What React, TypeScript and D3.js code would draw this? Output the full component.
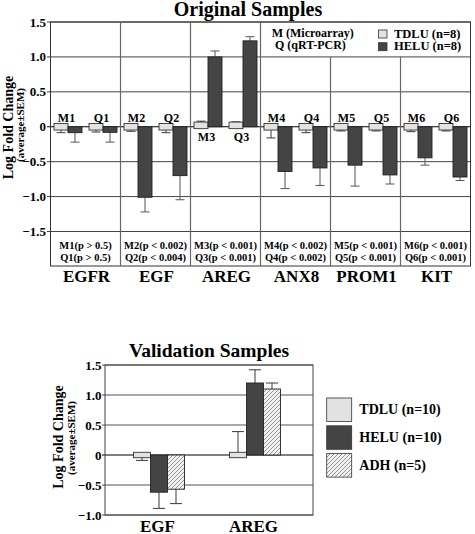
import React from "react";
import * as d3 from "d3";

// ---------- Original Samples data ----------
const genes = ["EGFR", "EGF", "AREG", "ANX8", "PROM1", "KIT"];
const methods = ["M", "Q"];
const probeLabels = ["M1", "Q1", "M2", "Q2", "M3", "Q3", "M4", "Q4", "M5", "Q5", "M6", "Q6"];
const tdluMean = [0, 0, 0, 0, 0.02, 0.02, 0, 0, 0, 0, 0, 0];
// signed SEM (direction of the whisker)
const tdluSem = [-0.085, -0.075, -0.065, -0.085, 0.06, 0.05, -0.16, -0.085, -0.06, -0.06, -0.07, -0.06];
const heluMean = [-0.085, -0.08, -1.01, -0.7, 1.0, 1.23, -0.64, -0.59, -0.55, -0.69, -0.445, -0.72];
const heluSem = [0.135, 0.14, 0.21, 0.345, 0.085, 0.06, 0.245, 0.25, 0.3, 0.13, 0.105, 0.05];
const pValues = [
  "p > 0.5", "p > 0.5",
  "p < 0.002", "p < 0.004",
  "p < 0.001", "p < 0.001",
  "p < 0.002", "p < 0.002",
  "p < 0.001", "p < 0.001",
  "p < 0.001", "p < 0.001",
];
const topTicks = [1.5, 1.0, 0.5, 0, -0.5, -1.0, -1.5];
const topLegend = ["TDLU (n=8)", "HELU (n=8)"];
const methodLegend = ["M (Microarray)", "Q (qRT-PCR)"];

// ---------- Validation Samples data ----------
const valCats = ["EGF", "AREG"];
const valGroups = ["TDLU (n=10)", "HELU (n=10)", "ADH (n=5)"];
const valTdluMean = [0, 0];
const valTdluSem = [-0.09, 0.39];
const valHeluMean = [-0.62, 1.2];
const valHeluSem = [0.27, 0.22];
const valAdhMean = [-0.57, 1.1];
const valAdhSem = [0.24, 0.1];
const botTicks = [1.5, 1.0, 0.5, 0, -0.5, -1.0];

const FONT = "'Liberation Serif', 'Times New Roman', serif";
const LIGHT = "#e2e2e2";
const DARK = "#444444";
const LINE = "#3a3a3a";

function fmt(v: number) {
  if (v === 0) return "0";
  return d3.format(".1f")(v);
}

export default function App() {
  // ---- top chart scales ----
  const tL = 50.5, tR = 470.5, tT = 22;
  const yTop = d3.scaleLinear().domain([-1.5, 1.5]).range([231.5, tT]);
  const tBottom = 266;
  const gx = d3.scaleBand<string>().domain(genes).range([tL, tR]);
  const mx = d3.scaleBand<string>().domain(methods).range([0, gx.bandwidth()]);
  const bx = d3.scaleBand<string>().domain(["TDLU", "HELU"]).range([3.5, mx.bandwidth() - 3.5]);
  const bw = bx.bandwidth();
  const capT = 9;

  // ---- bottom chart scales ----
  const bL = 105, bR = 313, bT = 365, bB = 515;
  const yBot = d3.scaleLinear().domain([-1, 1.5]).range([bB, bT]);
  const cx = d3.scalePoint<string>().domain(valCats).range([159, 255]);
  const vb = d3.scaleBand<string>().domain(valGroups).range([-25.5, 25.5]);
  const vbw = vb.bandwidth();
  const capB = 12;

  const topBars: React.ReactNode[] = [];
  probeLabels.forEach((lab, i) => {
    const g = genes[Math.floor(i / 2)];
    const m = methods[i % 2];
    const x0 = (gx(g) as number) + (mx(m) as number);
    const xT = x0 + (bx("TDLU") as number);
    const xH = x0 + (bx("HELU") as number);
    // TDLU box
    const yc = yTop(tdluMean[i]);
    const hh = 3.3;
    const yWT = yTop(tdluMean[i] + tdluSem[i]);
    const edge = tdluSem[i] < 0 ? yc + hh : yc - hh;
    topBars.push(
      <g key={"t" + i}>
        <line x1={xT + bw / 2} x2={xT + bw / 2} y1={edge} y2={yWT} stroke={LINE} strokeWidth={1} />
        <line x1={xT + bw / 2 - capT / 2} x2={xT + bw / 2 + capT / 2} y1={yWT} y2={yWT} stroke={LINE} strokeWidth={1} />
        <rect x={xT} y={yc - hh} width={bw} height={hh * 2} fill={LIGHT} stroke="#333" strokeWidth={0.9} />
      </g>
    );
    // HELU bar
    const v = heluMean[i];
    const y0 = yTop(0), y1 = yTop(v);
    const yW = yTop(v + Math.sign(v) * heluSem[i]);
    topBars.push(
      <g key={"h" + i}>
        <line x1={xH + bw / 2} x2={xH + bw / 2} y1={y1} y2={yW} stroke="#555" strokeWidth={1} />
        <line x1={xH + bw / 2 - capT / 2} x2={xH + bw / 2 + capT / 2} y1={yW} y2={yW} stroke="#555" strokeWidth={1} />
        <rect x={xH} y={Math.min(y0, y1)} width={bw} height={Math.abs(y1 - y0)} fill={DARK} stroke="#222" strokeWidth={0.9} />
      </g>
    );
    // probe label
    const pc = x0 + (bx("TDLU") as number) + bw - 1.5;
    const above = v < 0;
    topBars.push(
      <text key={"l" + i} x={pc} y={above ? yTop(0) - 5 : yTop(0) + 14.5} textAnchor="middle"
        fontSize={12} fontWeight="bold" fontFamily={FONT}>{lab}</text>
    );
  });

  const botBars: React.ReactNode[] = [];
  valCats.forEach((c, i) => {
    const c0 = cx(c) as number;
    // TDLU
    const xT = c0 + (vb(valGroups[0]) as number);
    const yc = yBot(valTdluMean[i]);
    const hh = 2.7;
    const yWT = yBot(valTdluMean[i] + valTdluSem[i]);
    const edge = valTdluSem[i] < 0 ? yc + hh : yc - hh;
    botBars.push(
      <g key={"vt" + i}>
        <line x1={xT + vbw / 2} x2={xT + vbw / 2} y1={edge} y2={yWT} stroke={LINE} strokeWidth={1} />
        <line x1={xT + vbw / 2 - capB / 2} x2={xT + vbw / 2 + capB / 2} y1={yWT} y2={yWT} stroke={LINE} strokeWidth={1} />
        <rect x={xT} y={yc - hh} width={vbw} height={hh * 2} fill={LIGHT} stroke="#333" strokeWidth={0.9} />
      </g>
    );
    const series = [
      { g: valGroups[1], m: valHeluMean[i], s: valHeluSem[i], fill: DARK },
      { g: valGroups[2], m: valAdhMean[i], s: valAdhSem[i], fill: "url(#hatch)" },
    ];
    series.forEach((sr, j) => {
      const x = c0 + (vb(sr.g) as number);
      const y0 = yBot(0), y1 = yBot(sr.m);
      const yW = yBot(sr.m + Math.sign(sr.m) * sr.s);
      botBars.push(
        <g key={"vb" + i + "_" + j}>
          <line x1={x + vbw / 2} x2={x + vbw / 2} y1={y1} y2={yW} stroke={LINE} strokeWidth={1} />
          <line x1={x + vbw / 2 - capB / 2} x2={x + vbw / 2 + capB / 2} y1={yW} y2={yW} stroke={LINE} strokeWidth={1} />
          <rect x={x} y={Math.min(y0, y1)} width={vbw} height={Math.abs(y1 - y0)} fill={sr.fill}
            stroke="#222" strokeWidth={0.9} />
        </g>
      );
    });
  });

  const legendX = gx("ANX8") as number;

  return (
    <div style={{ position: "absolute", left: 0, top: 0 }}>
      <svg width={475} height={534} style={{ display: "block", background: "#fff" }} fontFamily={FONT}>
        <defs>
          <pattern id="hatch" patternUnits="userSpaceOnUse" width={4} height={4}>
            <rect width={4} height={4} fill="#f2f2f2" />
            <path d="M-1,1 l2,-2 M0,4 l4,-4 M3,5 l2,-2" stroke="#8a8a8a" strokeWidth={0.9} />
          </pattern>
        </defs>

        {/* ===== Original Samples ===== */}
        <text x={248} y={16} textAnchor="middle" fontSize={20} fontWeight="bold">Original Samples</text>

        {/* gridlines */}
        {topTicks.map((t) => (
          <line key={"tg" + t} x1={tL - 3.5} x2={tR} y1={yTop(t)} y2={yTop(t)}
            stroke={t === 0 ? "#000" : "#444"} strokeWidth={1} />
        ))}
        {/* box */}
        <rect x={tL} y={tT} width={tR - tL} height={tBottom - tT} fill="none" stroke="#333" strokeWidth={1} />
        {/* group dividers */}
        {genes.slice(1).map((g) => {
          const x = gx(g) as number;
          const start = x > legendX ? yTop(1.0) : tT;
          return <line key={"gd" + g} x1={x} x2={x} y1={start} y2={tBottom} stroke="#666" strokeWidth={1.2} />;
        })}
        {/* tick labels */}
        {topTicks.map((t) => (
          <text key={"tl" + t} x={46} y={yTop(t) + 4.5} textAnchor="end" fontSize={13} fontWeight="bold">{fmt(t)}</text>
        ))}
        {/* y title */}
        <text transform={`translate(12.5,127.5) rotate(-90)`} textAnchor="middle" fontSize={14} fontWeight="bold">Log Fold Change</text>
        <text transform={`translate(23.5,125) rotate(-90)`} textAnchor="middle" fontSize={11} fontWeight="bold">(average±SEM)</text>

        {topBars}

        {/* p-values */}
        {genes.map((g, gi) => {
          const c = (gx(g) as number) + gx.bandwidth() / 2;
          return (
            <g key={"pv" + g}>
              <text x={c} y={248.5} textAnchor="middle" fontSize={10.5} fontWeight="bold">
                {probeLabels[gi * 2] + "(" + pValues[gi * 2] + ")"}
              </text>
              <text x={c} y={260.5} textAnchor="middle" fontSize={10.5} fontWeight="bold">
                {probeLabels[gi * 2 + 1] + "(" + pValues[gi * 2 + 1] + ")"}
              </text>
              <text x={c + 1} y={281.5} textAnchor="middle" fontSize={17} fontWeight="bold">{g}</text>
            </g>
          );
        })}

        {/* top legend */}
        <text x={271.7} y={36.5} fontSize={12} fontWeight="bold">{methodLegend[0]}</text>
        <text x={275} y={48.5} fontSize={12} fontWeight="bold">{methodLegend[1]}</text>
        {topLegend.map((l, i) => (
          <g key={"tlg" + l}>
            <rect x={378.5} y={30 + i * 12.7} width={8.5} height={8} fill={i === 0 ? LIGHT : DARK} stroke="#333" strokeWidth={0.8} />
            <text x={394} y={37.5 + i * 12.7} fontSize={12.5} fontWeight="bold">{l}</text>
          </g>
        ))}

        {/* ===== Validation Samples ===== */}
        <text x={209} y={356.5} textAnchor="middle" fontSize={19.5} fontWeight="bold">Validation Samples</text>
        {botTicks.map((t) => (
          <line key={"bg" + t} x1={bL - 3} x2={bR} y1={yBot(t)} y2={yBot(t)}
            stroke={t === 0 ? "#000" : "#555"} strokeWidth={1} />
        ))}
        <rect x={bL} y={bT} width={bR - bL} height={bB - bT} fill="none" stroke="#444" strokeWidth={1} />
        {botTicks.map((t) => (
          <text key={"bl" + t} x={101.5} y={yBot(t) + 4.5} textAnchor="end" fontSize={13} fontWeight="bold">{fmt(t)}</text>
        ))}
        <text transform={`translate(63,437) rotate(-90)`} textAnchor="middle" fontSize={14} fontWeight="bold">Log Fold Change</text>
        <text transform={`translate(75,438) rotate(-90)`} textAnchor="middle" fontSize={11} fontWeight="bold">(average±SEM)</text>

        {botBars}

        {valCats.map((c) => (
          <text key={"vc" + c} x={(cx(c) as number) - 1.5} y={532} textAnchor="middle" fontSize={17} fontWeight="bold">{c}</text>
        ))}

        {valGroups.map((l, i) => (
          <g key={"blg" + l}>
            <rect x={326.7} y={398 + i * 27.8} width={25} height={23.5}
              fill={i === 0 ? LIGHT : i === 1 ? DARK : "url(#hatch)"} stroke="#333" strokeWidth={0.8} />
            <text x={359.3} y={413.8 + i * 28.2} fontSize={14} fontWeight="bold">{l}</text>
          </g>
        ))}
      </svg>
    </div>
  );
}
